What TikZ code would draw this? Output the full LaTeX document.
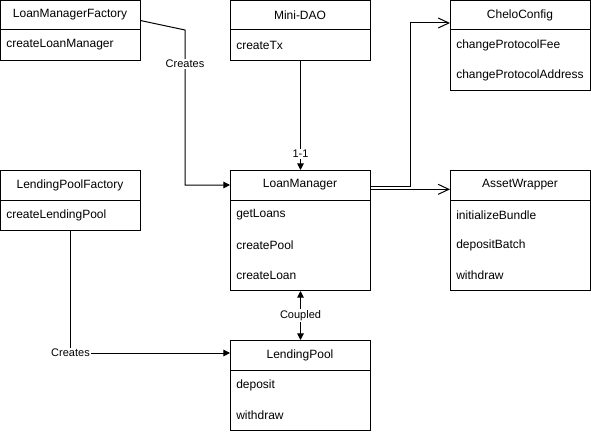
\documentclass[tikz,border=0pt]{standalone}
\usepackage{fontspec}
\setmainfont{Liberation Sans}
\usetikzlibrary{arrows.meta,calc}
\begin{document}
\begin{tikzpicture}[x=0.75pt,y=-0.75pt,
  cls/.style={draw, anchor=north west, minimum width=105pt, inner sep=0pt, line width=0.75pt},
  hd/.style={anchor=center, inner sep=0pt, font=\fontsize{9pt}{11pt}\selectfont},
  fld/.style={anchor=west, inner sep=0pt, font=\fontsize{9pt}{11pt}\selectfont},
  lbl/.style={fill=white, inner sep=1pt, font=\fontsize{8.25pt}{10pt}\selectfont},
  conn/.style={draw, line width=0.75pt},
  farrow/.style={conn, -{Triangle[length=5pt,width=5pt]}},
  barrow/.style={conn, {Triangle[length=5pt,width=5pt]}-{Triangle[length=5pt,width=5pt]}},
  oarrow/.style={conn, -{Straight Barb[length=8pt,width=7.5pt,line width=0.75pt]}}]
\useasboundingbox (0,0) rectangle (591,431);
% LoanManagerFactory
\node[cls, minimum height=45pt] (lmf) at (0,0) {};
\node[hd] (lmfh) at (70,15) {LoanManagerFactory};
\draw[line width=0.75pt] (0,30) -- (140,30);
\node[fld] (lmf1) at (6,45) {createLoanManager};
% Mini-DAO
\node[cls, minimum height=45pt] (dao) at (230,0) {};
\node[hd] (daoh) at (300,15) {Mini-DAO};
\draw[line width=0.75pt] (230,30) -- (370,30);
\node[fld] (dao1) at (236,45) {createTx};
% CheloConfig
\node[cls, minimum height=67.5pt] (cc) at (450,0) {};
\node[hd] (cch) at (520,15) {CheloConfig};
\draw[line width=0.75pt] (450,30) -- (590,30);
\node[fld] (cc1) at (456,45) {changeProtocolFee};
\node[fld] (cc2) at (456,75) {changeProtocolAddress};
% LendingPoolFactory
\node[cls, minimum height=45pt] (lpf) at (0,170) {};
\node[hd] (lpfh) at (70,185) {LendingPoolFactory};
\draw[line width=0.75pt] (0,200) -- (140,200);
\node[fld] (lpf1) at (6,215) {createLendingPool};
% LoanManager
\node[cls, minimum height=90pt] (lm) at (230,170) {};
\node[hd] (lmh) at (300,185) {LoanManager};
\draw[line width=0.75pt] (230,200) -- (370,200);
\node[fld] (lm1) at (236,215) {getLoans};
\node[fld] (lm2) at (236,245) {createPool};
\node[fld] (lm3) at (236,275) {createLoan};
% AssetWrapper
\node[cls, minimum height=90pt] (aw) at (450,170) {};
\node[hd] (awh) at (520,185) {AssetWrapper};
\draw[line width=0.75pt] (450,200) -- (590,200);
\node[fld] (aw1) at (456,215) {initializeBundle};
\node[fld] (aw2) at (456,245) {depositBatch};
\node[fld] (aw3) at (456,275) {withdraw};
% LendingPool
\node[cls, minimum height=67.5pt] (lp) at (230,340) {};
\node[hd] (lph) at (300,355) {LendingPool};
\draw[line width=0.75pt] (230,370) -- (370,370);
\node[fld] (lp1) at (236,385) {deposit};
\node[fld] (lp2) at (236,415) {withdraw};
% connectors
\coordinate (c1) at (185,30);
\coordinate (c2) at (185,185);
\draw[farrow] (lmfh.south -| lmf.east) -- (c1) -- node[lbl, pos=0.22] {Creates} (c2) -- (lm.west |- lmh);
\draw[farrow] (dao.south) -- node[lbl, pos=0.855] {1-1} (lm.north);
\coordinate (c3) at (410,186);
\coordinate (c4) at (410,23);
\draw[oarrow] ([yshift=-12pt]lm.north east) -- (c3) -- (c4) -- ([yshift=-17.25pt]cc.north west);
\draw[oarrow] ([yshift=-14.5pt]lm.north east) -- ([yshift=-14.5pt]aw.north west);
\draw[farrow] (lpf.south) |- node[lbl, pos=0.5] {Creates} ([yshift=-9.75pt]lp.north west);
\draw[barrow] (lm.south) -- node[lbl] {Coupled} (lp.north);
\end{tikzpicture}
\end{document}
